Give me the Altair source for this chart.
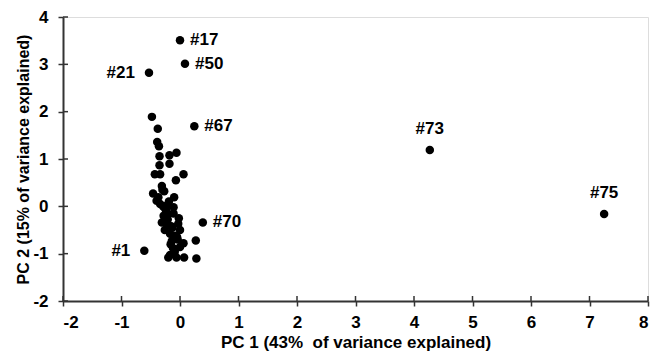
import altair as alt
import pandas as pd

pc1 = [0.00, 0.085, -0.53, 0.245, 4.27, 7.25, -0.61, 0.39,
       -0.48, -0.38, -0.39, -0.36, -0.35, -0.18, -0.06, -0.35, -0.18,
       -0.43, -0.34, 0.06, -0.07, -0.31, -0.46, -0.37, -0.10, -0.40,
       -0.34, -0.23, -0.11, -0.20, -0.11, -0.31, -0.22, -0.03, -0.26,
       0.00, -0.17, -0.14, 0.06, 0.27, -0.17, -0.09, -0.06, -0.20,
       0.07, 0.28, 0.00, -0.28, -0.15, -0.05, -0.25, -0.12, -0.02, -0.30,
       -0.27, -0.21, -0.13, -0.08, -0.24, -0.16, -0.04, -0.19, -0.29, -0.10]
pc2 = [3.51, 3.01, 2.82, 1.69, 1.19, -0.16, -0.94, -0.34,
       1.89, 1.64, 1.36, 1.27, 1.06, 1.08, 1.13, 0.87, 0.90,
       0.68, 0.68, 0.68, 0.55, 0.43, 0.27, 0.19, 0.19, 0.12,
       0.05, 0.01, -0.02, -0.16, -0.15, -0.34, -0.36, -0.37, -0.50,
       -0.50, -0.58, -0.73, -0.78, -0.72, -1.03, -0.96, -1.08, -1.08,
       -1.08, -1.10, -0.86, -0.20, -0.42, -0.65, -0.05, -0.88, -0.25, 0.35,
       0.32, -0.28, -0.45, -0.62, -0.08, -0.80, -0.70, 0.10, 0.00, -0.95]
labels = ["#17", "#50", "#21", "#67", "#73", "#75", "#1", "#70"] + [""] * (len(pc1) - 8)
label_pos = ["right", "right", "left", "right", "above", "above", "left", "right"] + [""] * (len(pc1) - 8)

x_ticks = list(range(-2, 9))
y_ticks = list(range(-2, 5))

df = pd.DataFrame({"pc1": pc1, "pc2": pc2, "label": labels, "pos": label_pos})

FONT = "Liberation Sans"
AX = "#333333"
W, H = 585, 284

xs = alt.Scale(domain=[-2, 8], nice=False, zero=False)
ys = alt.Scale(domain=[-2, 4], nice=False, zero=False)

x_axis = alt.Axis(values=x_ticks, title="PC 1 (43%\u00a0 of variance explained)",
                  labelExpr="datum.value + ''",
                  grid=False, domain=True, domainColor=AX, domainWidth=2,
                  tickColor=AX, tickWidth=1.5, tickSize=5,
                  labelFont=FONT, labelFontSize=17, labelFontWeight="bold",
                  labelPadding=8, labelColor="black",
                  titleFont=FONT, titleFontSize=17, titleFontWeight="bold",
                  titlePadding=4, titleColor="black")
y_axis = alt.Axis(values=y_ticks, title="PC 2 (15% of variance explained)",
                  labelExpr="datum.value + ''",
                  grid=False, domain=True, domainColor=AX, domainWidth=2,
                  tickColor=AX, tickWidth=1.5, tickSize=5,
                  labelFont=FONT, labelFontSize=17, labelFontWeight="bold",
                  labelPadding=10, labelColor="black",
                  titleFont=FONT, titleFontSize=16, titleFontWeight="bold",
                  titlePadding=1, titleColor="black")

x = alt.X("pc1:Q", scale=xs, axis=x_axis)
y = alt.Y("pc2:Q", scale=ys, axis=y_axis)

base = alt.Chart(df)
points = base.mark_circle(size=72, color="black", opacity=1).encode(x=x, y=y)

txt = dict(font=FONT, fontSize=17, fontWeight="bold", color="black")
right = base.transform_filter(alt.datum.pos == "right").mark_text(
    align="left", baseline="middle", dx=10, **txt).encode(x=x, y=y, text="label:N")
left = base.transform_filter(alt.datum.pos == "left").mark_text(
    align="right", baseline="middle", dx=-14, **txt).encode(x=x, y=y, text="label:N")
above = base.transform_filter(alt.datum.pos == "above").mark_text(
    align="center", baseline="middle", dy=-21, **txt).encode(x=x, y=y, text="label:N")

# inner halves of the crossing tick marks
xt = alt.Chart(pd.DataFrame({"t": x_ticks})).mark_rule(color=AX, strokeWidth=1.5).encode(
    x=alt.X("t:Q", scale=xs, axis=x_axis), y=alt.value(H), y2=alt.value(H - 5))
yt = alt.Chart(pd.DataFrame({"t": y_ticks})).mark_rule(color=AX, strokeWidth=1.5).encode(
    y=alt.Y("t:Q", scale=ys, axis=y_axis), x=alt.value(0), x2=alt.value(5))

chart = alt.layer(points, right, left, above, xt, yt).properties(
    width=W, height=H,
    autosize=alt.AutoSizeParams(type="none"),
    padding={"left": 55, "top": 9, "right": 8, "bottom": 51},
).configure_view(stroke=AX, strokeWidth=2).configure(background="white")

chart.save("out.html", embed_options={"renderer": "svg", "actions": False})
